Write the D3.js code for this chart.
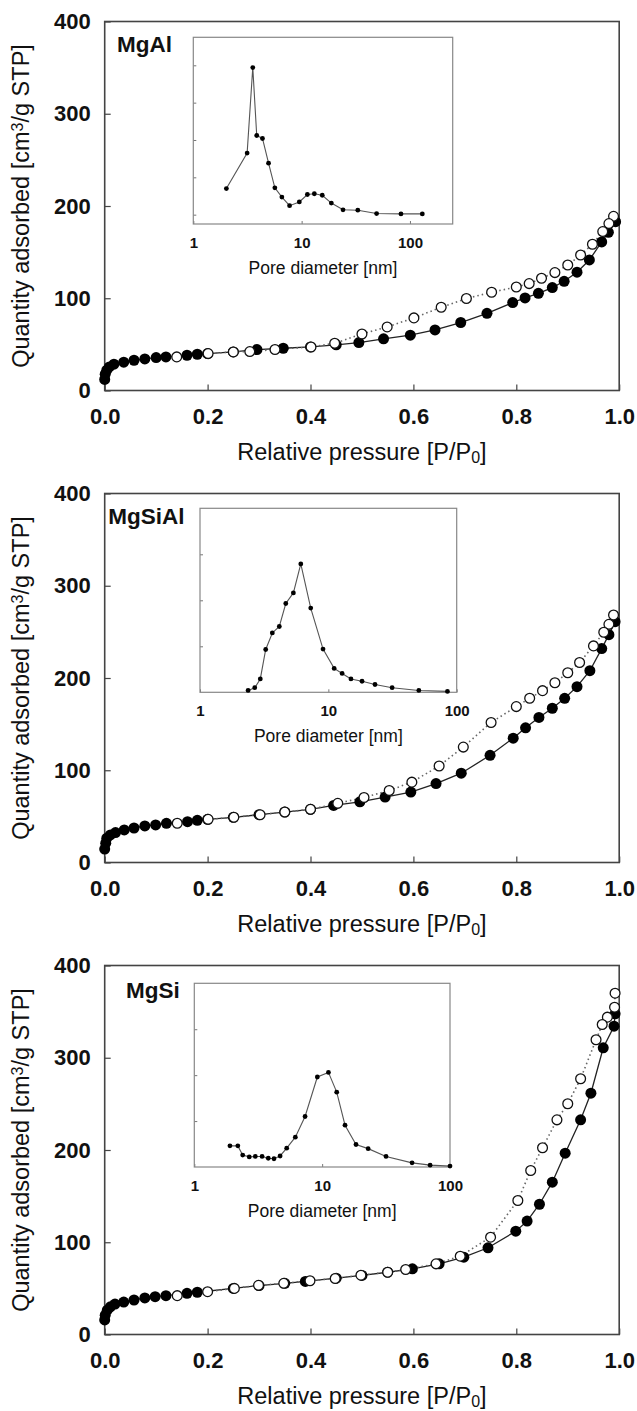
<!DOCTYPE html>
<html>
<head>
<meta charset="utf-8">
<script src="https://cdn.jsdelivr.net/npm/d3@7"></script>
<style>
  body { margin: 0; background: white; }
  text { font-family: "Liberation Sans", Arial, sans-serif; fill: #111; }
</style>
</head>
<body>
<div id="chart"></div>
<script>
// ---- data ----
var sampleNames = ["MgAl", "MgSiAl", "MgSi"];
var xTicks = [0, 0.2, 0.4, 0.6, 0.8, 1.0];
var yTicks = [0, 100, 200, 300, 400];
var insetXTicks = [1, 10, 100];

// MgAl isotherm
var mgAlAdsP = [0.000, 0.001, 0.004, 0.009, 0.018, 0.037, 0.057, 0.078, 0.100, 0.119, 0.160, 0.180, 0.200, 0.250, 0.296, 0.347, 0.400, 0.450, 0.494, 0.542, 0.594, 0.642, 0.692, 0.743, 0.793, 0.817, 0.843, 0.870, 0.893, 0.918, 0.942, 0.966, 0.979, 0.993];
var mgAlAdsQ = [12, 17.7, 22, 25.6, 28.5, 30.7, 32.8, 34.2, 35.7, 36.4, 38.2, 39.3, 40, 41.8, 44.4, 45.8, 47.2, 49.5, 52, 56, 60, 65.7, 73.7, 83.7, 95.3, 100.3, 105.4, 111.6, 118.4, 128.2, 141.5, 161, 171.5, 183];
var mgAlDesP = [0.989, 0.980, 0.968, 0.948, 0.925, 0.900, 0.875, 0.849, 0.825, 0.800, 0.752, 0.703, 0.654, 0.601, 0.549, 0.500, 0.447, 0.401, 0.331, 0.282, 0.250, 0.201, 0.140];
var mgAlDesQ = [188.8, 180.9, 172.3, 158.5, 146.9, 136, 127.8, 121.7, 115.9, 112.2, 106.5, 99.7, 90.2, 78.7, 68.9, 61.3, 51.2, 47.2, 44.4, 42.2, 41.8, 40, 36.4];
var mgAlPoreD = [2.02, 3.14, 3.54, 3.85, 4.35, 4.95, 5.66, 6.57, 7.74, 9.52, 11.3, 13.1, 15.5, 18.8, 24.1, 33, 49.2, 82.6, 130];
var mgAlPoreV = [0.70, 1.65, 3.94, 2.12, 2.04, 1.38, 0.72, 0.47, 0.24, 0.34, 0.54, 0.56, 0.52, 0.31, 0.13, 0.12, 0.03, 0.02, 0.02];

// MgSiAl isotherm
var mgSiAlAdsP = [0.000, 0.002, 0.004, 0.011, 0.021, 0.038, 0.057, 0.078, 0.099, 0.120, 0.161, 0.180, 0.200, 0.250, 0.300, 0.350, 0.400, 0.445, 0.496, 0.545, 0.595, 0.644, 0.693, 0.749, 0.794, 0.818, 0.844, 0.870, 0.894, 0.918, 0.943, 0.966, 0.980, 0.992];
var mgSiAlAdsQ = [14.5, 20.9, 26.3, 29.9, 32.4, 35.3, 37.4, 39.6, 40.7, 42.5, 44.2, 45.7, 46.8, 49, 51.8, 54.7, 57.6, 61.9, 65.8, 70.9, 76.3, 85.6, 96.8, 116.2, 134.8, 146, 157.2, 167.2, 178, 190.6, 207.9, 231.9, 247, 261];
var mgSiAlDesP = [0.989, 0.980, 0.970, 0.950, 0.923, 0.900, 0.875, 0.851, 0.826, 0.800, 0.751, 0.697, 0.650, 0.597, 0.553, 0.504, 0.453, 0.400, 0.350, 0.302, 0.251, 0.201, 0.141];
var mgSiAlDesQ = [268.3, 258.2, 249.6, 234.8, 216.8, 205.7, 194.9, 186.3, 178, 169, 151.8, 125.1, 104.6, 87.1, 78.1, 70.5, 64.1, 57.6, 54.7, 51.8, 49, 46.8, 42.5];
var mgSiAlPoreD = [2.37, 2.67, 2.95, 3.25, 3.66, 4.15, 4.66, 5.34, 6.10, 7.29, 9.09, 11.1, 12.8, 15.0, 18.3, 23.1, 31.4, 50.7, 84.7];
var mgSiAlPoreV = [0.04, 0.10, 0.29, 0.93, 1.29, 1.43, 1.93, 2.16, 2.79, 1.83, 0.94, 0.52, 0.41, 0.29, 0.24, 0.17, 0.10, 0.04, 0.02];

// MgSi isotherm
var mgSiAdsP = [0.000, 0.001, 0.005, 0.011, 0.020, 0.037, 0.057, 0.078, 0.098, 0.119, 0.160, 0.180, 0.250, 0.300, 0.350, 0.390, 0.450, 0.500, 0.550, 0.598, 0.650, 0.698, 0.745, 0.799, 0.821, 0.845, 0.870, 0.895, 0.925, 0.945, 0.969, 0.990, 0.992];
var mgSiAdsQ = [15.8, 21, 26.4, 30, 33, 35.2, 37.4, 39.6, 41, 42.1, 44.7, 45.8, 50, 53, 55.5, 57.5, 61, 64, 67.5, 71.2, 76.6, 83.8, 94, 112, 122.9, 141.2, 165.1, 196.5, 232.7, 261.6, 310.8, 334.2, 347.6];
var mgSiDesP = [0.992, 0.991, 0.977, 0.967, 0.955, 0.925, 0.900, 0.879, 0.851, 0.828, 0.803, 0.750, 0.691, 0.644, 0.585, 0.550, 0.498, 0.448, 0.399, 0.348, 0.299, 0.252, 0.200, 0.141];
var mgSiDesQ = [370, 354.8, 344, 336, 319.5, 277.2, 250.1, 232.7, 202.4, 177.8, 145.3, 105.5, 84.9, 76.6, 70.5, 67.5, 64.3, 60.7, 58.3, 55.5, 53.3, 50, 46.4, 42.1];
var mgSiPoreD = [1.90, 2.19, 2.39, 2.69, 3.0, 3.39, 3.79, 4.20, 4.69, 5.28, 6.17, 7.35, 9.17, 11.2, 13.0, 15.1, 18.4, 22.9, 31.6, 50.5, 69.9, 100];
var mgSiPoreV = [0.46, 0.46, 0.26, 0.22, 0.23, 0.23, 0.19, 0.18, 0.24, 0.41, 0.65, 1.10, 1.96, 2.06, 1.63, 0.91, 0.49, 0.40, 0.23, 0.09, 0.04, 0.02];

// ---- layout ----
var width = 637, height = 1411;
var plotLeft = 104.7, plotRight = 619.2, plotH = 369;
var panels = [
  { top: 21.5, labelX: 117, labelY: 30.5,
    inset: { x: 193.3, y: 15.8, w: 259.4, h: 186.7, dMax: 248, vDom: [-0.25, 4.75], vTicks: [0, 1, 2, 3, 4] },
    ads: [mgAlAdsP, mgAlAdsQ], des: [mgAlDesP, mgAlDesQ], pore: [mgAlPoreD, mgAlPoreV] },
  { top: 493.5, labelX: 108.3, labelY: 30.7,
    inset: { x: 200, y: 14.8, w: 256.7, h: 184, dMax: 100, vDom: [0, 4], vTicks: [1, 2, 3] },
    ads: [mgSiAlAdsP, mgSiAlAdsQ], des: [mgSiAlDesP, mgSiAlDesQ], pore: [mgSiAlPoreD, mgSiAlPoreV] },
  { top: 965.5, labelX: 126, labelY: 32,
    inset: { x: 194.3, y: 17.8, w: 255.7, h: 183.7, dMax: 100, vDom: [0, 4], vTicks: [1, 2, 3] },
    ads: [mgSiAdsP, mgSiAdsQ], des: [mgSiDesP, mgSiDesQ], pore: [mgSiPoreD, mgSiPoreV] }
];

var svg = d3.select("#chart").append("svg")
  .attr("width", width)
  .attr("height", height)
  .style("display", "block");

svg.append("rect").attr("width", width).attr("height", height).attr("fill", "white");

var x = d3.scaleLinear().domain([0, 1]).range([plotLeft, plotRight]);
var y = d3.scaleLinear().domain([0, 400]).range([plotH, 0]);

function zip(a, b) {
  return a.map(function(v, i) { return [v, b[i]]; });
}

panels.forEach(function(p, i) {
  drawPanel(p, sampleNames[i]);
});

function drawPanel(p, name) {
  var g = svg.append("g").attr("transform", "translate(0," + p.top + ")");

  // axes
  var xAxis = g.append("g")
    .attr("transform", "translate(0," + plotH + ")")
    .call(d3.axisBottom(x).tickValues(xTicks).tickSize(-6).tickPadding(18).tickFormat(d3.format(".1f")));
  var yAxis = g.append("g")
    .attr("transform", "translate(" + plotLeft + ",0)")
    .call(d3.axisLeft(y).tickValues(yTicks).tickSize(-6).tickPadding(14).tickFormat(d3.format("d")));

  [xAxis, yAxis].forEach(function(a) {
    a.select(".domain").remove();
    a.selectAll(".tick line").attr("stroke", "#444").attr("stroke-width", 1.2);
    a.selectAll("text")
      .attr("fill", "#111")
      .style("font-size", "22px")
      .style("font-weight", "bold")
      .style("font-family", "'Liberation Sans', Arial, sans-serif");
  });

  g.append("rect")
    .attr("x", plotLeft).attr("y", 0)
    .attr("width", plotRight - plotLeft).attr("height", plotH)
    .attr("fill", "none").attr("stroke", "#444").attr("stroke-width", 1.6);

  // axis titles
  g.append("text")
    .attr("x", (plotLeft + plotRight) / 2)
    .attr("y", plotH + 69)
    .attr("text-anchor", "middle")
    .style("font-size", "23.5px")
    .call(function(t) {
      t.append("tspan").text("Relative pressure [P/P");
      t.append("tspan").attr("baseline-shift", "-18%").style("font-size", "16px").text("0");
      t.append("tspan").text("]");
    });

  g.append("text")
    .attr("transform", "translate(29," + (plotH / 2) + ") rotate(-90)")
    .attr("text-anchor", "middle")
    .style("font-size", "23.5px")
    .call(function(t) {
      t.append("tspan").text("Quantity adsorbed [cm");
      t.append("tspan").attr("baseline-shift", "38%").style("font-size", "16px").text("3");
      t.append("tspan").text("/g STP]");
    });

  // sample label
  g.append("text")
    .attr("x", p.labelX).attr("y", p.labelY)
    .style("font-size", "22.5px")
    .style("font-weight", "bold")
    .text(name);

  // isotherm lines
  var line = d3.line()
    .x(function(d) { return x(d[0]); })
    .y(function(d) { return y(d[1]); });

  var ads = zip(p.ads[0], p.ads[1]);
  var des = zip(p.des[0], p.des[1]);

  g.append("path")
    .attr("d", line(ads))
    .attr("fill", "none")
    .attr("stroke", "#222")
    .attr("stroke-width", 1.3);

  g.append("path")
    .attr("d", line(des))
    .attr("fill", "none")
    .attr("stroke", "#666")
    .attr("stroke-width", 1.6)
    .attr("stroke-dasharray", "1.5,3");

  g.selectAll(".ads")
    .data(ads)
    .enter().append("circle")
    .attr("class", "ads")
    .attr("cx", function(d) { return x(d[0]); })
    .attr("cy", function(d) { return y(d[1]); })
    .attr("r", 5.5)
    .attr("fill", "#000");

  g.selectAll(".des")
    .data(des)
    .enter().append("circle")
    .attr("class", "des")
    .attr("cx", function(d) { return x(d[0]); })
    .attr("cy", function(d) { return y(d[1]); })
    .attr("r", 4.9)
    .attr("fill", "white")
    .attr("stroke", "#111")
    .attr("stroke-width", 1.3);

  drawInset(g, p);
}

function drawInset(g, p) {
  var ins = p.inset;
  var ig = g.append("g").attr("transform", "translate(" + ins.x + "," + ins.y + ")");

  var xs = d3.scaleLog().domain([1, ins.dMax]).range([0, ins.w]);
  var ys = d3.scaleLinear().domain(ins.vDom).range([ins.h, 0]);

  ig.append("rect")
    .attr("width", ins.w).attr("height", ins.h)
    .attr("fill", "white");

  var xa = ig.append("g")
    .attr("transform", "translate(0," + ins.h + ")")
    .call(d3.axisBottom(xs).tickValues(insetXTicks).tickSize(-3).tickPadding(13.5).tickFormat(d3.format("d")));
  var ya = ig.append("g")
    .call(d3.axisLeft(ys).tickValues(ins.vTicks).tickSize(-3).tickFormat(""));

  [xa, ya].forEach(function(a) {
    a.select(".domain").remove();
    a.selectAll(".tick line").attr("stroke", "#777").attr("stroke-width", 1);
  });
  xa.selectAll("text")
    .attr("fill", "#111")
    .style("font-size", "15px")
    .style("font-weight", "bold")
    .style("font-family", "'Liberation Sans', Arial, sans-serif");

  ig.append("rect")
    .attr("width", ins.w).attr("height", ins.h)
    .attr("fill", "none")
    .attr("stroke", "#888")
    .attr("stroke-width", 1.2);

  ig.append("text")
    .attr("x", ins.w / 2)
    .attr("y", ins.h + 50)
    .attr("text-anchor", "middle")
    .style("font-size", "17.5px")
    .text("Pore diameter [nm]");

  var pts = zip(p.pore[0], p.pore[1]);

  ig.append("path")
    .attr("d", d3.line()
      .x(function(d) { return xs(d[0]); })
      .y(function(d) { return ys(d[1]); })(pts))
    .attr("fill", "none")
    .attr("stroke", "#555")
    .attr("stroke-width", 1.1);

  ig.selectAll(".pd")
    .data(pts)
    .enter().append("circle")
    .attr("class", "pd")
    .attr("cx", function(d) { return xs(d[0]); })
    .attr("cy", function(d) { return ys(d[1]); })
    .attr("r", 2.4)
    .attr("fill", "#000");
}
</script>
</body>
</html>
